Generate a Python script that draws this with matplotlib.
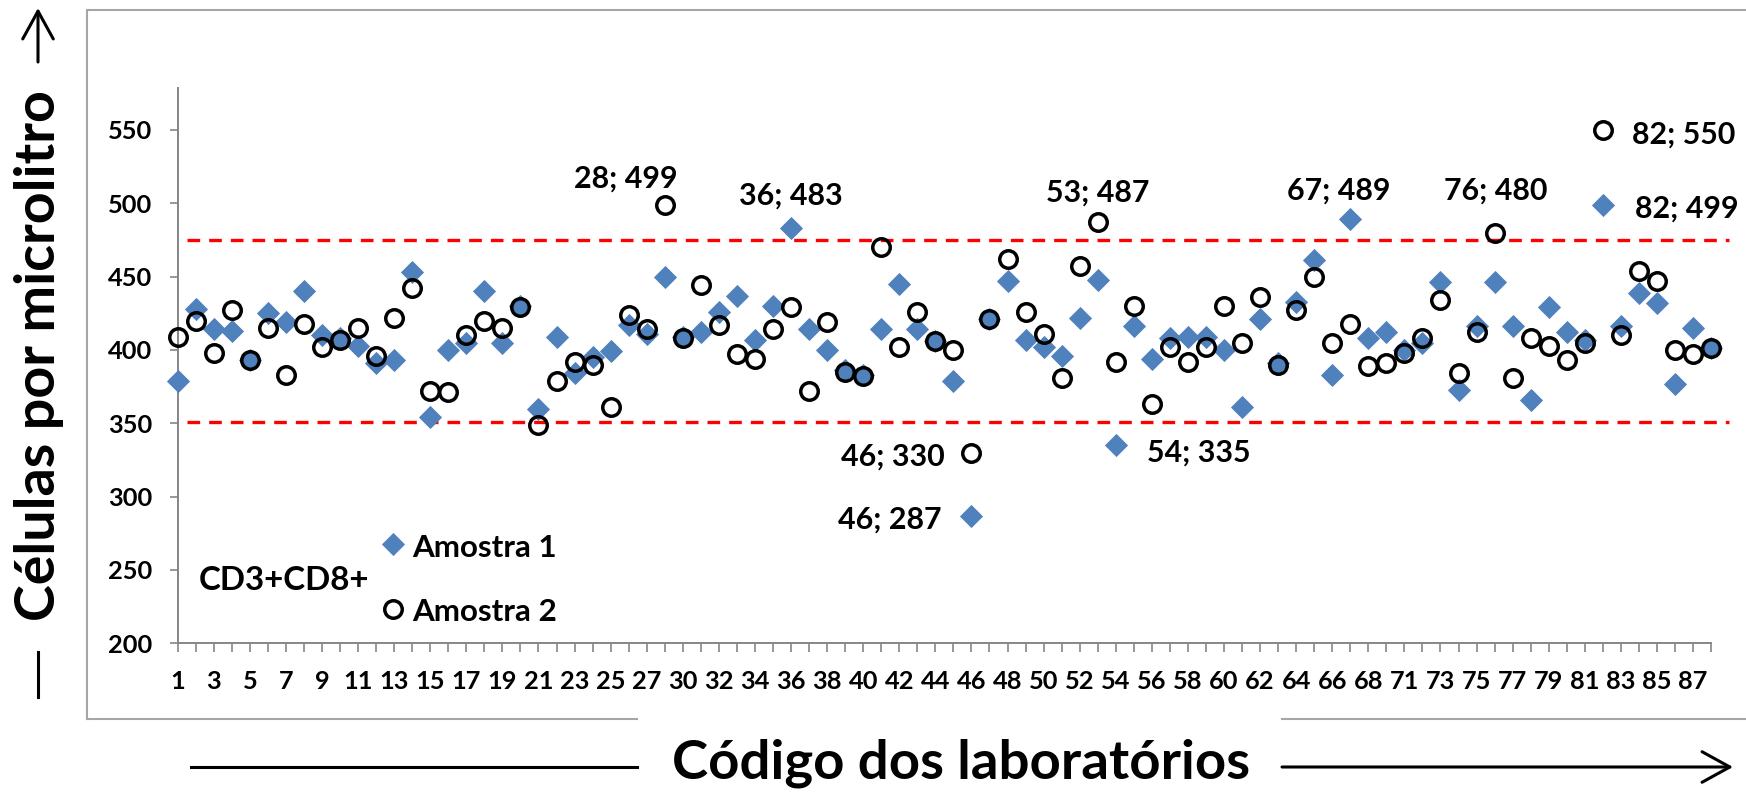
import matplotlib
matplotlib.use("Agg")
import matplotlib.pyplot as plt
from matplotlib.lines import Line2D
from matplotlib.patches import FancyArrowPatch

# Códigos dos laboratórios (29 e 70 não aparecem no gráfico)
lab_codes = list(range(1, 29)) + list(range(30, 70)) + list(range(71, 89))

# CD3+CD8+ (células/µL)
amostra1 = [379, 428, 414, 413, 393, 425, 419, 440, 410, 408,
            403, 391, 393, 453, 354, 400, 405, 440, 405, 430,
            360, 409, 384, 395, 399, 417, 411, 450, 409, 412,
            426, 437, 407, 430, 483, 414, 400, 386, 383, 414,
            445, 414, 406, 379, 287, 421, 447, 407, 402, 396,
            422, 448, 335, 416, 394, 408, 409, 409, 400, 361,
            421, 391, 433, 461, 383, 489, 408, 412, 400, 405,
            446, 373, 416, 446, 416, 366, 429, 412, 407, 499,
            416, 439, 432, 377, 415, 401]
amostra2 = [409, 420, 398, 427, 393, 415, 383, 418, 402, 407,
            415, 396, 422, 442, 372, 371, 410, 420, 415, 429,
            349, 379, 392, 390, 361, 424, 414, 499, 408, 444,
            417, 397, 394, 414, 429, 372, 419, 385, 382, 470,
            402, 426, 406, 400, 330, 421, 462, 426, 411, 381,
            457, 487, 392, 430, 363, 402, 392, 402, 430, 405,
            436, 390, 427, 450, 405, 418, 389, 391, 398, 408,
            434, 384, 412, 480, 381, 408, 403, 393, 405, 550,
            410, 454, 447, 400, 397, 401]

limite_inf = 351
limite_sup = 475

# pontos com rótulo (índice do laboratório, amostra)
rotulos = [(27, 2), (34, 1), (51, 2), (65, 1), (73, 2),
           (79, 2), (79, 1), (44, 2), (44, 1), (52, 1)]

# deslocamento do rótulo em pixels (dx, dy) e alinhamento
desloc = {(27, 2): (-39, 17, 'center'), (34, 1): (0, 24, 'center'),
          (51, 2): (0, 21, 'center'), (65, 1): (-12, 20, 'center'),
          (73, 2): (1, 33, 'center'), (79, 2): (29, -14, 'left'),
          (79, 1): (32, -13, 'left'), (44, 2): (-27, -13, 'right'),
          (44, 1): (-30, -13, 'right'), (52, 1): (31, -16, 'left')}

FONT = ['Liberation Sans Narrow', 'Lato', 'DejaVu Sans']
plt.rcParams['font.family'] = FONT
plt.rcParams['font.weight'] = 'bold'

W, H = 1746, 792
def fx(x):
    return x / W
def fy(y):
    return 1 - y / H

azul = '#4F81BD'
cinza = '#868686'

fig = plt.figure(figsize=(W / 100, H / 100), dpi=100)
r = fig.canvas.get_renderer()

def fit(t, target):
    w = t.get_window_extent(renderer=r).width
    t.set_fontsize(t.get_fontsize() * target / w)
    return t.get_fontsize()

step = 18.04
ax = fig.add_axes([fx(177.7), fy(643.3), 86.1 * step / W, (643.3 - 88.3) / H])
ax.patch.set_visible(False)
x = list(range(len(lab_codes)))

ax.plot([0.5, 86], [limite_sup] * 2, color='red', lw=2.4, dashes=(3.8, 2.7), clip_on=False, zorder=2)
ax.plot([0.5, 86], [limite_inf] * 2, color='red', lw=2.4, dashes=(3.8, 2.7), clip_on=False, zorder=2)

ax.plot(x, amostra1, ls='none', marker='D', ms=11.4, color=azul, mew=0.6, zorder=3, clip_on=False)
ax.plot(x, amostra2, ls='none', marker='o', ms=12.6, mfc='none', mec='black', mew=2.5, zorder=4, clip_on=False)

ax.set_xlim(0, 86.1)
ax.set_ylim(200, 578.4)
for s in ['top', 'right']:
    ax.spines[s].set_visible(False)
for s in ['left', 'bottom']:
    ax.spines[s].set_color(cinza)
    ax.spines[s].set_linewidth(1.4)
ax.spines['bottom'].set_bounds(0, 85)

# tamanho da fonte dos números dos eixos
probe = fig.text(0, 0, '550')
tick_fs = fit(probe, 44)
probe.remove()

ax.set_xticks(x)
ax.set_xticklabels([str(c) if i % 2 == 0 else '' for i, c in enumerate(lab_codes)])
ax.set_yticks(range(200, 551, 50))
ax.tick_params(axis='x', length=6.5, width=1.2, color=cinza, pad=13, labelsize=tick_fs)
ax.tick_params(axis='y', length=5.8, width=1.2, color=cinza, pad=12.5, labelsize=tick_fs)

# rótulos dos pontos
ann_fs = None
for (i, s) in rotulos:
    v = amostra1[i] if s == 1 else amostra2[i]
    dx, dy, ha = desloc[(i, s)]
    t = ax.annotate(f'{lab_codes[i]}; {v}', (i, v), xytext=(dx, dy), textcoords='offset pixels',
                    ha=ha, va='baseline', fontsize=24, annotation_clip=False)
    if ann_fs is None:
        ann_fs = fit(t, 104)
    else:
        t.set_fontsize(ann_fs)

# legenda
fig.add_artist(Line2D([fx(393)], [fy(544)], ls='none', marker='D', ms=11, color=azul, mew=0.6))
fig.add_artist(Line2D([fx(393)], [fy(609)], ls='none', marker='o', ms=12.6, mfc='none', mec='black', mew=2.5))
t1 = fig.text(fx(412), fy(557), 'Amostra 1', ha='left', va='baseline')
leg_fs = fit(t1, 145)
fig.text(fx(412), fy(621), 'Amostra 2', ha='left', va='baseline', fontsize=leg_fs)
t3 = fig.text(fx(199), fy(590), 'CD3+CD8+', ha='left', va='baseline')
fit(t3, 170)

# moldura
moldura = dict(color='#A6A6A6', lw=1.5)
fig.add_artist(Line2D([fx(87), fx(87)], [fy(10), fy(719)], **moldura))
fig.add_artist(Line2D([fx(87), fx(W + 5)], [fy(10), fy(10)], **moldura))
fig.add_artist(Line2D([fx(87), fx(637)], [fy(719), fy(719)], **moldura))
fig.add_artist(Line2D([fx(1282), fx(W + 5)], [fy(719), fy(719)], **moldura))

# títulos dos eixos com setas
tx = fig.text(fx(961), fy(779), 'Código dos laboratórios', ha='center', va='baseline')
fit(tx, 578)
ty = fig.text(fx(55), fy(355.5), 'Células por microlitro', ha='center', va='baseline',
              rotation_mode='anchor')
fit(ty, 533)
ty.set_rotation(90)

fig.add_artist(Line2D([fx(191), fx(637)], [fy(767), fy(767)], color='black', lw=2.2))
fig.add_artist(FancyArrowPatch((fx(1282), fy(767)), (fx(1733), fy(767)), transform=fig.transFigure,
                               arrowstyle='->,head_length=1.0,head_width=0.55', mutation_scale=20,
                               color='black', lw=2.2, shrinkA=0, shrinkB=0))
fig.add_artist(Line2D([fx(38), fx(38)], [fy(697), fy(652)], color='black', lw=2.2))
fig.add_artist(FancyArrowPatch((fx(38), fy(62)), (fx(38), fy(8)), transform=fig.transFigure,
                               arrowstyle='->,head_length=1.0,head_width=0.55', mutation_scale=20,
                               color='black', lw=2.2, shrinkA=0, shrinkB=0))

fig.savefig('out.png', dpi=100)
